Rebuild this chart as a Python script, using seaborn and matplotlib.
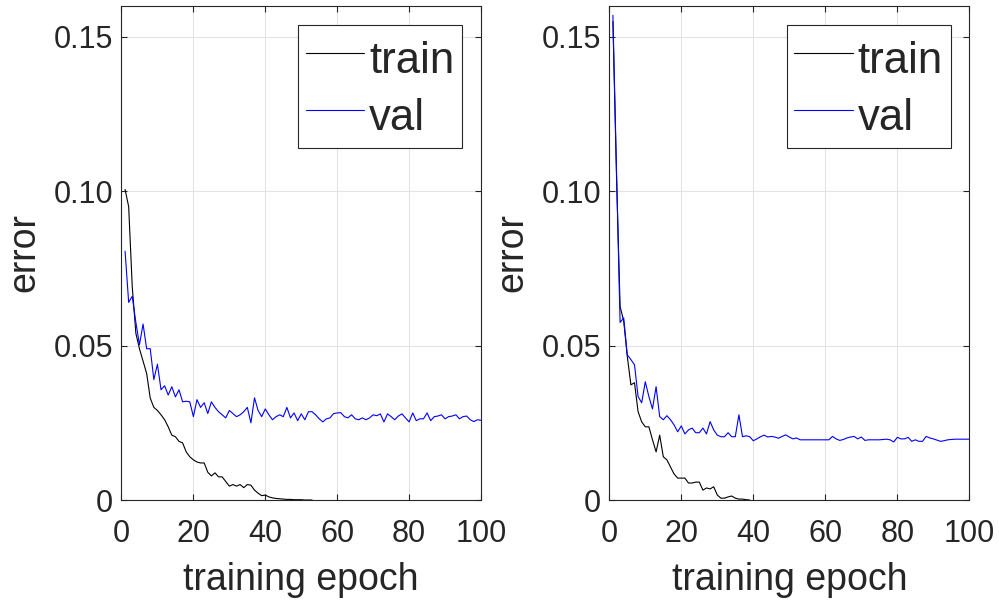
import numpy as np
import pandas as pd
import seaborn as sns
import matplotlib.pyplot as plt

# error per training epoch, left panel
train_left = [0.1006, 0.095, 0.069, 0.054, 0.049, 0.045, 0.041, 0.033, 0.030, 0.029,
              0.0276, 0.026, 0.0237, 0.021, 0.0205, 0.019, 0.0185, 0.0156, 0.014, 0.013,
              0.0123, 0.012, 0.012, 0.009, 0.0078, 0.0088, 0.0075, 0.0075, 0.006, 0.0045,
              0.005, 0.0045, 0.005, 0.004, 0.005, 0.0048, 0.0032, 0.0022, 0.0014, 0.0016,
              0.001, 0.0007, 0.0005, 0.0004, 0.0003, 0.0002, 0.0002, 0.0001, 0.0001, 0.0001,
              0.0, 0.0, 0.0]
val_left = [0.0806, 0.064, 0.066, 0.0575, 0.0503, 0.057, 0.049, 0.049, 0.039, 0.044,
            0.0357, 0.037, 0.034, 0.0367, 0.0334, 0.0357, 0.0318, 0.032, 0.0318, 0.027,
            0.0325, 0.030, 0.0315, 0.028, 0.0318, 0.030, 0.0286, 0.0276, 0.0266, 0.029,
            0.028, 0.027, 0.0276, 0.0286, 0.030, 0.025, 0.0331, 0.029, 0.027, 0.0295,
            0.0276, 0.026, 0.027, 0.0276, 0.027, 0.030, 0.0266, 0.0282, 0.0257, 0.0279,
            0.026, 0.0286, 0.0286, 0.0276, 0.0263, 0.0253, 0.0263, 0.0266, 0.028, 0.0282,
            0.0283, 0.027, 0.0266, 0.0276, 0.0263, 0.026, 0.0266, 0.026, 0.0266, 0.0276,
            0.0273, 0.0279, 0.0253, 0.0279, 0.027, 0.026, 0.0272, 0.0279, 0.0266, 0.0253,
            0.0282, 0.0257, 0.0263, 0.0263, 0.0282, 0.0257, 0.027, 0.0272, 0.0276, 0.0263,
            0.027, 0.0272, 0.0276, 0.0263, 0.027, 0.0272, 0.026, 0.0254, 0.026, 0.0258]

# right panel
train_right = [0.155, 0.105, 0.0627, 0.058, 0.0465, 0.0373, 0.038, 0.0286, 0.0253, 0.0237,
               0.0237, 0.0195, 0.0156, 0.021, 0.014, 0.013, 0.0107, 0.0084, 0.0071, 0.0071,
               0.0071, 0.0055, 0.0055, 0.0058, 0.0058, 0.0032, 0.0039, 0.0036, 0.0043, 0.0016,
               0.0006, 0.0006, 0.001, 0.0013, 0.0006, 0.0003, 0.0003, 0.0001, 0.0]
val_right = [0.157, 0.107, 0.0575, 0.059, 0.047, 0.0455, 0.0438, 0.0335, 0.0315, 0.0383,
             0.0335, 0.0295, 0.0367, 0.027, 0.026, 0.0273, 0.026, 0.0243, 0.0221, 0.024,
             0.0214, 0.0227, 0.0233, 0.0218, 0.0218, 0.0233, 0.0214, 0.0254, 0.0227, 0.021,
             0.0205, 0.0205, 0.0218, 0.0205, 0.0205, 0.0276, 0.0205, 0.0208, 0.0205, 0.0192,
             0.0198, 0.0205, 0.021, 0.0204, 0.0206, 0.0204, 0.0200, 0.0206, 0.0211, 0.0204,
             0.0198, 0.0201, 0.0195, 0.0195, 0.0195, 0.0195, 0.0195, 0.0195, 0.0195, 0.0195,
             0.0195, 0.0206, 0.0198, 0.0193, 0.0196, 0.0201, 0.0204, 0.0206, 0.0198, 0.0204,
             0.0193, 0.0195, 0.0195, 0.0195, 0.0195, 0.0196, 0.0197, 0.0195, 0.0188, 0.0203,
             0.0198, 0.0198, 0.0203, 0.019, 0.0195, 0.019, 0.019, 0.0206, 0.0201, 0.0198,
             0.0194, 0.019, 0.0192, 0.0195, 0.0196, 0.0197, 0.0197, 0.0197, 0.0197, 0.0197]

series_names = ['train', 'val']
x_ticks = [0, 20, 40, 60, 80, 100]
y_ticks = [0, 0.05, 0.10, 0.15]
y_tick_labels = ['0', '0.05', '0.10', '0.15']

FG = '#262626'


def armar_df(train, val):
    partes = []
    for nombre, serie in zip(series_names, [train, val]):
        partes.append(pd.DataFrame({'epoch': np.arange(1, len(serie) + 1),
                                    'error': serie, 'split': nombre}))
    return pd.concat(partes, ignore_index=True)


sns.set_theme(style='whitegrid')
plt.rcParams['font.family'] = ['Liberation Sans', 'DejaVu Sans']

fig = plt.figure(figsize=(9.99, 6.03), dpi=100)
ax_l = fig.add_axes([0.1216, 0.1708, 0.3599, 0.8192])
ax_r = fig.add_axes([0.6099, 0.1708, 0.3604, 0.8192])

for ax, (tr, va) in zip([ax_l, ax_r], [(train_left, val_left), (train_right, val_right)]):
    df = armar_df(tr, va)
    sns.lineplot(data=df, x='epoch', y='error', hue='split',
                 palette={'train': 'black', 'val': '#0000ff'},
                 linewidth=0.8, ax=ax)
    ax.set_xlim(0, 100)
    ax.set_ylim(0, 0.16)
    ax.set_xticks(x_ticks)
    ax.set_yticks(y_ticks)
    ax.set_yticklabels(y_tick_labels)
    ax.set_xlabel('training epoch', fontsize=27, color=FG, labelpad=9)
    ax.set_ylabel('error', fontsize=27, color=FG, labelpad=8)
    ax.tick_params(direction='in', length=4, width=0.8, colors=FG,
                   labelsize=22, top=True, right=True, bottom=True, left=True)
    ax.tick_params(axis='x', pad=14)
    ax.tick_params(axis='y', pad=6)
    ax.grid(True, color='#e3e3e3', linewidth=0.8)
    ax.set_axisbelow(True)
    for sp in ax.spines.values():
        sp.set_visible(True)
        sp.set_color(FG)
        sp.set_linewidth(0.8)
    ax.set_facecolor('white')

    handles, labels = ax.get_legend_handles_labels()
    leg = ax.legend(handles, labels, loc='upper right', fontsize=31.5,
                    handlelength=1.33, handleheight=1.4, handletextpad=0.11,
                    borderpad=0.18, labelspacing=0.15, borderaxespad=0.43,
                    fancybox=False, framealpha=1, edgecolor=FG)
    leg.get_frame().set_linewidth(0.8)

fig.savefig('out.png', dpi=100, facecolor='white')
